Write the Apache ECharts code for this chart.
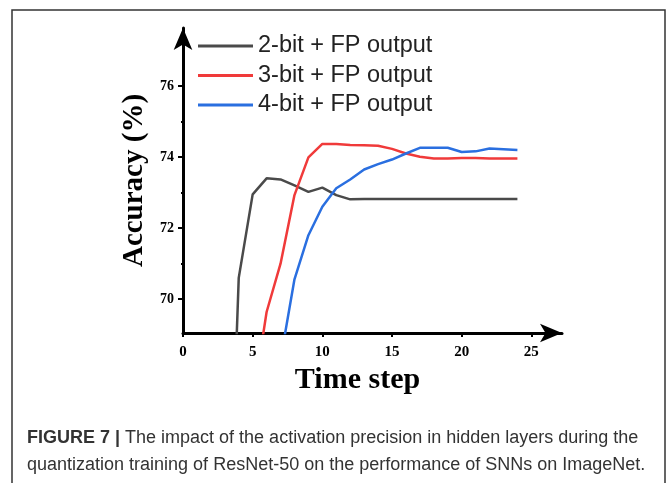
<!DOCTYPE html>
<html>
<head>
<meta charset="utf-8">
<script src="https://cdn.jsdelivr.net/npm/echarts@6/dist/echarts.min.js"></script>
<style>
  html, body { margin: 0; padding: 0; background: #fff; }
  #main { width: 668px; height: 483px; }
</style>
</head>
<body>
<div id="main"></div>
<script>
// time steps and accuracy (%) per quantization setting
var timeSteps = [3, 4, 5, 6, 7, 8, 9, 10, 11, 12, 13, 14, 15, 16, 17, 18, 19, 20, 21, 22, 23, 24];
var acc2bit = [59.5, 70.6, 72.95, 73.4, 73.37, 73.2, 73.02, 73.14, 72.93, 72.81, 72.82, 72.82, 72.82, 72.82, 72.82, 72.82, 72.82, 72.82, 72.82, 72.82, 72.82, 72.82];
var acc3bit = [null, null, 67.1, 69.64, 71.0, 72.93, 73.99, 74.37, 74.37, 74.34, 74.33, 74.32, 74.23, 74.1, 74.01, 73.96, 73.96, 73.97, 73.97, 73.96, 73.96, 73.96];
var acc4bit = [null, null, null, null, 68.3, 70.56, 71.8, 72.6, 73.12, 73.37, 73.65, 73.8, 73.93, 74.1, 74.26, 74.26, 74.26, 74.14, 74.16, 74.24, 74.22, 74.2];
var seriesNames = ['2-bit + FP output', '3-bit + FP output', '4-bit + FP output'];
var xTicks = [0, 5, 10, 15, 20, 25];
var yTicks = [70, 72, 74, 76];
var yMinorTicks = [71, 73, 75];

function pairs(vals) {
    return timeSteps.map(function (t, i) { return [t, vals[i]]; });
}

var myChart = echarts.init(document.getElementById('main'));
var serif = '"Liberation Serif", "Times New Roman", serif';
var sans = '"Liberation Sans", Arial, Helvetica, sans-serif';

var option = {
    backgroundColor: '#fff',
    animation: false,
    color: ['#4a4a4a', '#f03a3a', '#2a6fe0'],
    legend: {
        orient: 'vertical',
        left: 193,
        top: 29,
        icon: 'rect',
        itemWidth: 55,
        itemHeight: 3,
        itemGap: 5.5,
        textStyle: {
            fontFamily: sans,
            fontSize: 23.5,
            color: '#222',
            lineHeight: 23
        },
        data: seriesNames
    },
    grid: {
        left: 183,
        right: 106,
        top: 28,
        bottom: 150
    },
    xAxis: {
        type: 'value',
        min: 0,
        max: 27.2,
        name: 'Time step',
        nameLocation: 'middle',
        nameGap: 30,
        nameTextStyle: {
            fontFamily: serif,
            fontWeight: 'bold',
            fontSize: 30,
            color: '#000',
            padding: [0, 30, 0, 0]
        },
        splitLine: { show: false },
        axisLine: {
            lineStyle: { color: '#000', width: 3 },
            symbol: ['none', 'arrow'],
            symbolSize: [14, 22]
        },
        axisTick: {
            customValues: xTicks,
            length: 4,
            lineStyle: { color: '#000', width: 2 }
        },
        axisLabel: {
            customValues: xTicks,
            fontFamily: serif,
            fontWeight: 'bold',
            fontSize: 15,
            color: '#000',
            margin: 12
        }
    },
    yAxis: [{
        type: 'value',
        min: 69.05,
        max: 77.63,
        name: 'Accuracy (%)',
        nameLocation: 'middle',
        nameGap: 32,
        nameTextStyle: {
            fontFamily: serif,
            fontWeight: 'bold',
            fontSize: 29,
            color: '#000'
        },
        splitLine: { show: false },
        axisLine: {
            lineStyle: { color: '#000', width: 3 },
            symbol: ['none', 'arrow'],
            symbolSize: [14, 22]
        },
        axisTick: {
            customValues: yTicks,
            length: 5,
            lineStyle: { color: '#000', width: 2 }
        },
        axisLabel: {
            customValues: yTicks,
            fontFamily: serif,
            fontWeight: 'bold',
            fontSize: 14,
            color: '#000',
            margin: 9
        }
    }, {
        type: 'value',
        min: 69.05,
        max: 77.63,
        position: 'left',
        splitLine: { show: false },
        axisLine: { show: false },
        axisTick: {
            customValues: yMinorTicks,
            length: 2,
            lineStyle: { color: '#000', width: 2 }
        },
        axisLabel: { show: false }
    }],
    graphic: [{
        type: 'rect',
        shape: { x: 12, y: 10, width: 653, height: 500 },
        style: { fill: 'none', stroke: '#333', lineWidth: 1.5 },
        silent: true
    }, {
        type: 'text',
        left: 27,
        top: 429,
        style: {
            text: '{b|FIGURE 7 |} The impact of the activation precision in hidden layers during the',
            fontFamily: sans,
            fontSize: 18,
            fill: '#333',
            rich: { b: { fontWeight: 'bold', fontFamily: sans, fontSize: 18, fill: '#333' } }
        }
    }, {
        type: 'text',
        left: 27,
        top: 456,
        style: {
            text: 'quantization training of ResNet-50 on the performance of SNNs on ImageNet.',
            fontFamily: sans,
            fontSize: 18,
            fill: '#333'
        }
    }],
    series: [{
        name: seriesNames[0],
        type: 'line',
        showSymbol: false,
        lineStyle: { width: 2.5 },
        data: pairs(acc2bit)
    }, {
        name: seriesNames[1],
        type: 'line',
        showSymbol: false,
        lineStyle: { width: 2.5 },
        data: pairs(acc3bit)
    }, {
        name: seriesNames[2],
        type: 'line',
        showSymbol: false,
        lineStyle: { width: 2.5 },
        data: pairs(acc4bit)
    }]
};
myChart.setOption(option);
</script>
</body>
</html>
